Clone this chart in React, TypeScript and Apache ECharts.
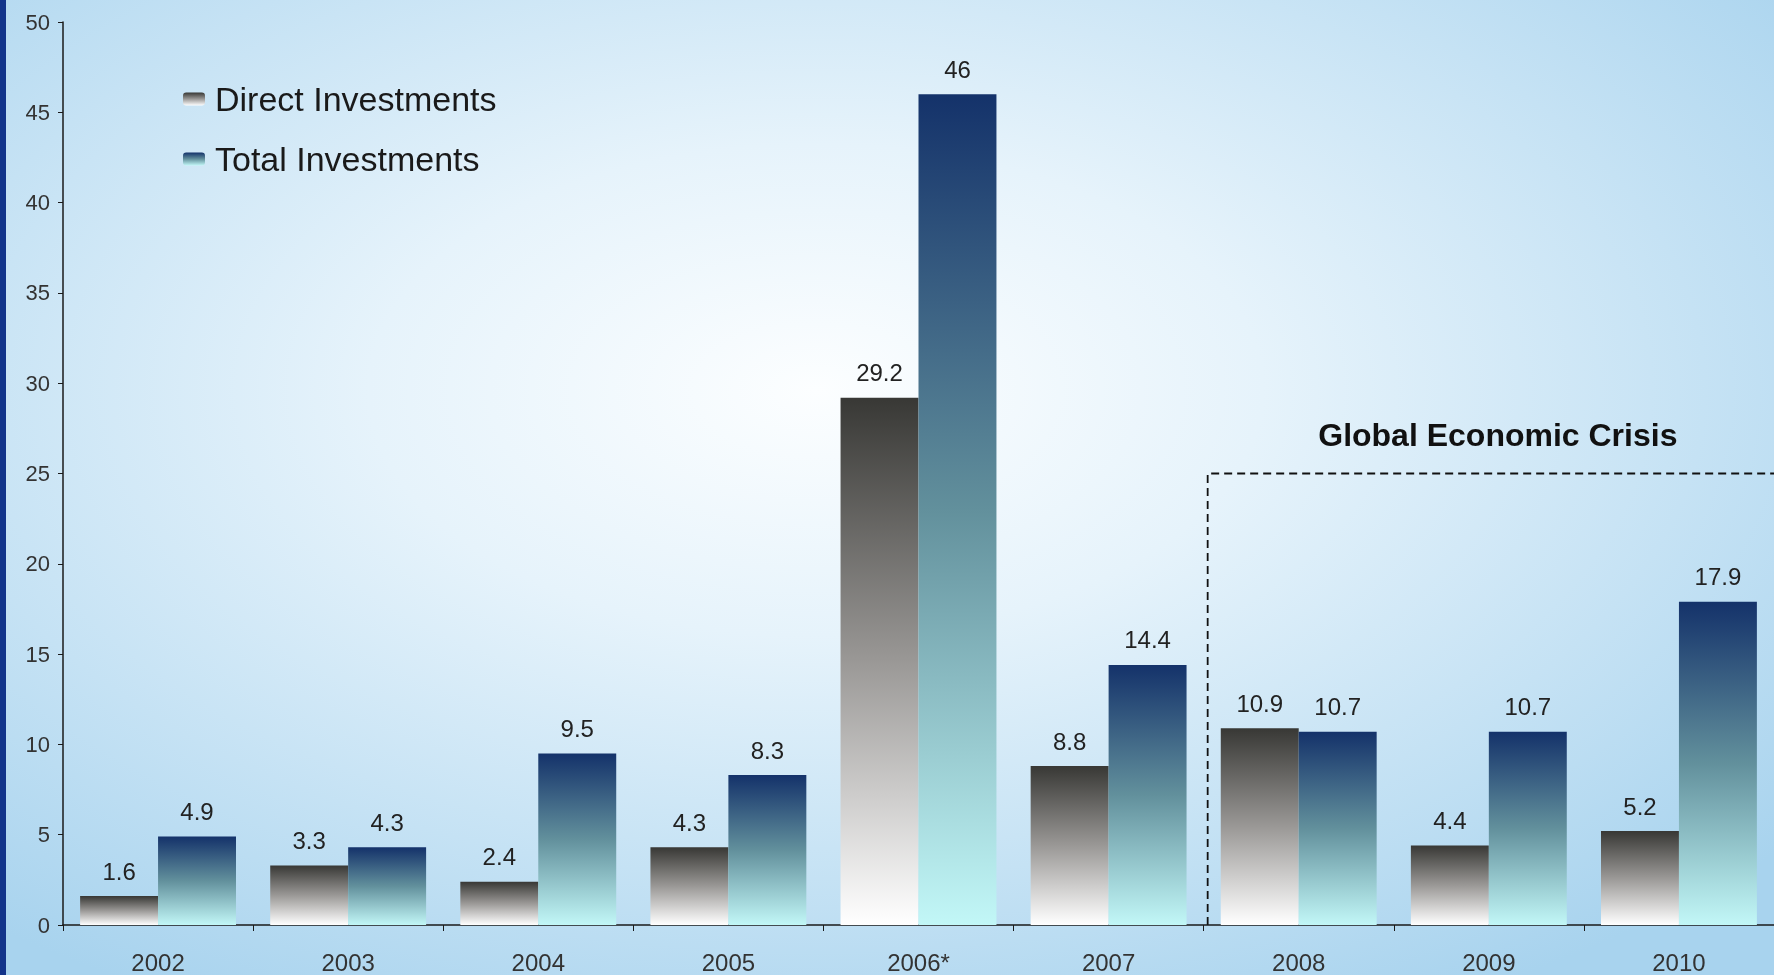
import React, { useEffect, useRef } from "react";
import * as echarts from "echarts";

const categories = ["2002", "2003", "2004", "2005", "2006*", "2007", "2008", "2009", "2010"];
const directInvestments = [1.6, 3.3, 2.4, 4.3, 29.2, 8.8, 10.9, 4.4, 5.2];
const totalInvestments = [4.9, 4.3, 9.5, 8.3, 46, 14.4, 10.7, 10.7, 17.9];
const yTicks = { min: 0, max: 50, interval: 5 };
const crisisLevel = 25;
const crisisStartIndex = 6; // 2008
const crisisLabel = "Global Economic Crisis";

const FONT = "'Liberation Sans', Arial, sans-serif";

export default function App() {
  const ref = useRef<HTMLDivElement>(null);

  useEffect(() => {
    if (!ref.current) return;
    const chart = echarts.init(ref.current, null, { renderer: "svg" });

    const directGrad = new echarts.graphic.LinearGradient(0, 0, 0, 1, [
      { offset: 0, color: "#383835" },
      { offset: 0.5, color: "#9a9896" },
      { offset: 1, color: "#ffffff" },
    ]);
    const totalGrad = new echarts.graphic.LinearGradient(0, 0, 0, 1, [
      { offset: 0, color: "#14326a" },
      { offset: 0.5, color: "#62909c" },
      { offset: 1, color: "#c2f7f7" },
    ]);

    const labelStyle = {
      show: true,
      position: "top" as const,
      distance: 13,
      fontFamily: FONT,
      fontSize: 24,
      color: "#222",
    };

    const option: any = {
      animation: false,
      textStyle: { fontFamily: FONT },
      legend: {
        orient: "vertical",
        left: 178,
        top: 77,
        itemWidth: 22,
        itemHeight: 13,
        itemGap: 26,
        textStyle: { fontSize: 34, color: "#1a1a1a", fontFamily: FONT, padding: [0, 0, 0, 5] },
        data: ["Direct Investments", "Total Investments"],
      },
      grid: { left: 63, top: 22, width: 1720, bottom: 50, containLabel: false },
      xAxis: {
        type: "category",
        data: categories,
        axisLine: { show: true, lineStyle: { color: "#1a1a1a", width: 1.5 } },
        axisTick: { show: true, length: 6, lineStyle: { color: "#1a1a1a" } },
        axisLabel: { fontSize: 24, color: "#333", margin: 25, fontFamily: FONT },
      },
      yAxis: {
        type: "value",
        min: yTicks.min,
        max: yTicks.max,
        interval: yTicks.interval,
        splitLine: { show: false },
        axisLine: { show: true, lineStyle: { color: "#1a1a1a", width: 1.5 } },
        axisTick: { show: true, length: 5, lineStyle: { color: "#1a1a1a" } },
        axisLabel: { fontSize: 22, color: "#333", margin: 13, fontFamily: FONT },
      },
      series: [
        {
          name: "Direct Investments",
          type: "bar",
          data: directInvestments,
          barGap: "0%",
          barCategoryGap: "18%",
          itemStyle: { color: directGrad },
          label: labelStyle,
        },
        {
          name: "Total Investments",
          type: "bar",
          data: totalInvestments,
          barGap: "0%",
          barCategoryGap: "18%",
          itemStyle: { color: totalGrad },
          label: labelStyle,
        },
      ],
    };

    chart.setOption(option);

    const xOf = (i: number) => chart.convertToPixel({ xAxisIndex: 0 }, categories[i]) as number;
    const yOf = (v: number) => chart.convertToPixel({ yAxisIndex: 0 }, v) as number;
    const xBoundary = (xOf(crisisStartIndex - 1) + xOf(crisisStartIndex)) / 2 + 4;
    const yLevel = yOf(crisisLevel);
    const yBase = yOf(0);
    const width = chart.getWidth();
    const height = chart.getHeight();

    chart.setOption({
      graphic: [
        {
          type: "rect",
          z: -100,
          silent: true,
          shape: { x: 0, y: 0, width, height },
          style: {
            fill: new echarts.graphic.RadialGradient(0.46, 0.4, 0.72, [
              { offset: 0, color: "#fcfeff" },
              { offset: 0.35, color: "#e6f3fb" },
              { offset: 1, color: "#a8d3ee" },
            ]),
          },
        },
        {
          type: "rect",
          z: -90,
          silent: true,
          shape: { x: 0, y: 0, width: 6, height },
          style: { fill: "#12348a" },
        },
        {
          type: "polyline",
          silent: true,
          shape: {
            points: [
              [xBoundary, yBase],
              [xBoundary, yLevel],
              [width, yLevel],
            ],
          },
          style: { stroke: "#111", lineWidth: 1.8, lineDash: [8, 5], fill: null },
        },
        {
          type: "text",
          silent: true,
          x: xOf(crisisStartIndex + 1) + 9,
          y: yLevel - 39,
          style: {
            text: crisisLabel,
            fontFamily: FONT,
            fontWeight: "bold",
            fontSize: 32,
            fill: "#111",
            align: "center",
            verticalAlign: "middle",
          },
        },
      ],
    });

    return () => chart.dispose();
  }, []);

  return (
    <div
      ref={ref}
      style={{ position: "fixed", left: 0, top: 0, width: 1774, height: 975 }}
    />
  );
}
